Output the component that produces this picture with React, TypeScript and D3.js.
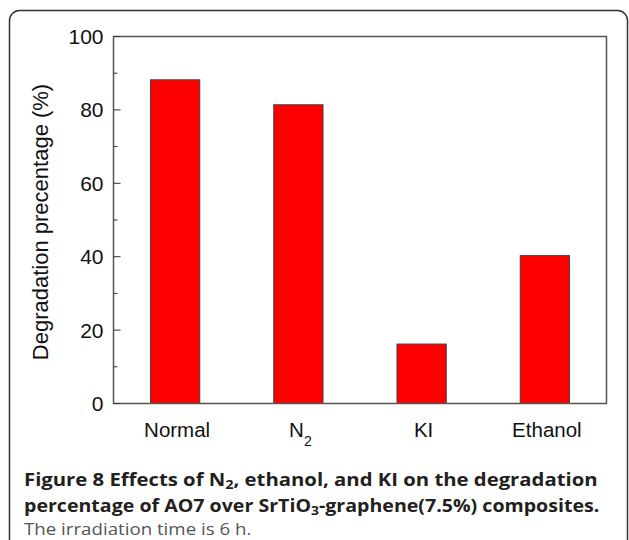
import React from "react";
import * as d3 from "d3";

const categories = ["Normal", "N2", "KI", "Ethanol"];
const values = [88.2, 81.4, 16.2, 40.3];
const majorTicks = [0, 20, 40, 60, 80, 100];
const minorTicks = [10, 30, 50, 70, 90];
const yTitle = "Degradation precentage (%)";

const W = 629;
const H = 540;
const plot = { left: 113.5, right: 606.5, top: 36.5, bottom: 403.5 };

export default function App() {
  const x = d3
    .scaleBand<string>()
    .domain(categories)
    .range([plot.left, plot.right])
    .paddingInner(0.6)
    .paddingOuter(0.3);
  const y = d3.scaleLinear().domain([0, 100]).range([plot.bottom, plot.top]);
  const axisFont = "Liberation Sans, Arial, sans-serif";
  const capFont = "'Open Sans', sans-serif";

  const label = (c: string) => {
    if (c === "N2") {
      return (
        <>
          N<tspan fontSize={14} dy={9}>2</tspan>
        </>
      );
    }
    return c;
  };

  return (
    <svg
      width={W}
      height={H}
      style={{ position: "absolute", left: 0, top: 0, background: "#fff" }}
    >
      <rect x={9.5} y={10.5} width={618} height={620} rx={10} fill="none" stroke="#333" strokeWidth={1.5} />
      {/* bars */}
      {categories.map((c, i) => (
        <rect
          key={c}
          x={x(c)}
          y={y(values[i])}
          width={x.bandwidth()}
          height={y(0) - y(values[i])}
          fill="#ff0000"
          stroke="#444"
          strokeWidth={1}
        />
      ))}
      {/* frame */}
      <rect
        x={plot.left}
        y={plot.top}
        width={plot.right - plot.left}
        height={plot.bottom - plot.top}
        fill="none"
        stroke="#555"
        strokeWidth={1.5}
      />
      {/* ticks */}
      {majorTicks.map((t) => (
        <g key={t}>
          <line x1={plot.left} x2={plot.left + 7} y1={y(t)} y2={y(t)} stroke="#333" strokeWidth={1} />
          <text
            x={plot.left - 10}
            y={y(t)}
            dy="0.36em"
            textAnchor="end"
            fontFamily={axisFont}
            fontSize={21}
            fill="#111"
          >
            {t}
          </text>
        </g>
      ))}
      {minorTicks.map((t) => (
        <line key={t} x1={plot.left} x2={plot.left + 4} y1={y(t)} y2={y(t)} stroke="#333" strokeWidth={1} />
      ))}
      {/* x labels */}
      {categories.map((c) => (
        <text
          key={c}
          x={(x(c) as number) + x.bandwidth() / 2 + 2}
          y={437}
          textAnchor="middle"
          fontFamily={axisFont}
          fontSize={20.5}
          fill="#111"
        >
          {label(c)}
        </text>
      ))}
      {/* y title */}
      <text
        transform={`translate(48,${(plot.top + plot.bottom) / 2 + 2}) rotate(-90)`}
        textAnchor="middle"
        fontFamily={axisFont}
        fontSize={22}
        fill="#111"
      >
        {yTitle}
      </text>
      {/* caption */}
      <g transform="translate(24,486) scale(1.16,1)">
        <text x={0} y={0} fontFamily={capFont} fontSize={17.5} fill="#231f20" fontWeight="bold">
          <tspan>Figure 8</tspan>
          <tspan> Effects of N</tspan>
          <tspan fontSize={12.5} dy={3}>2</tspan>
          <tspan dy={-3}>, ethanol, and KI on the degradation</tspan>
        </text>
      </g>
      <g transform="translate(24,512) scale(1.12,1)">
        <text x={0} y={0} fontFamily={capFont} fontSize={17.5} fill="#231f20" fontWeight="bold">
          <tspan>percentage of AO7 over SrTiO</tspan>
          <tspan fontSize={12.5} dy={3}>3</tspan>
          <tspan dy={-3}>-graphene(7.5%) composites.</tspan>
        </text>
      </g>
      <g transform="translate(24,535) scale(1.1,1)">
        <text x={0} y={0} fontFamily={capFont} fontSize={17} fill="#555">
          The irradiation time is 6 h.
        </text>
      </g>
    </svg>
  );
}
